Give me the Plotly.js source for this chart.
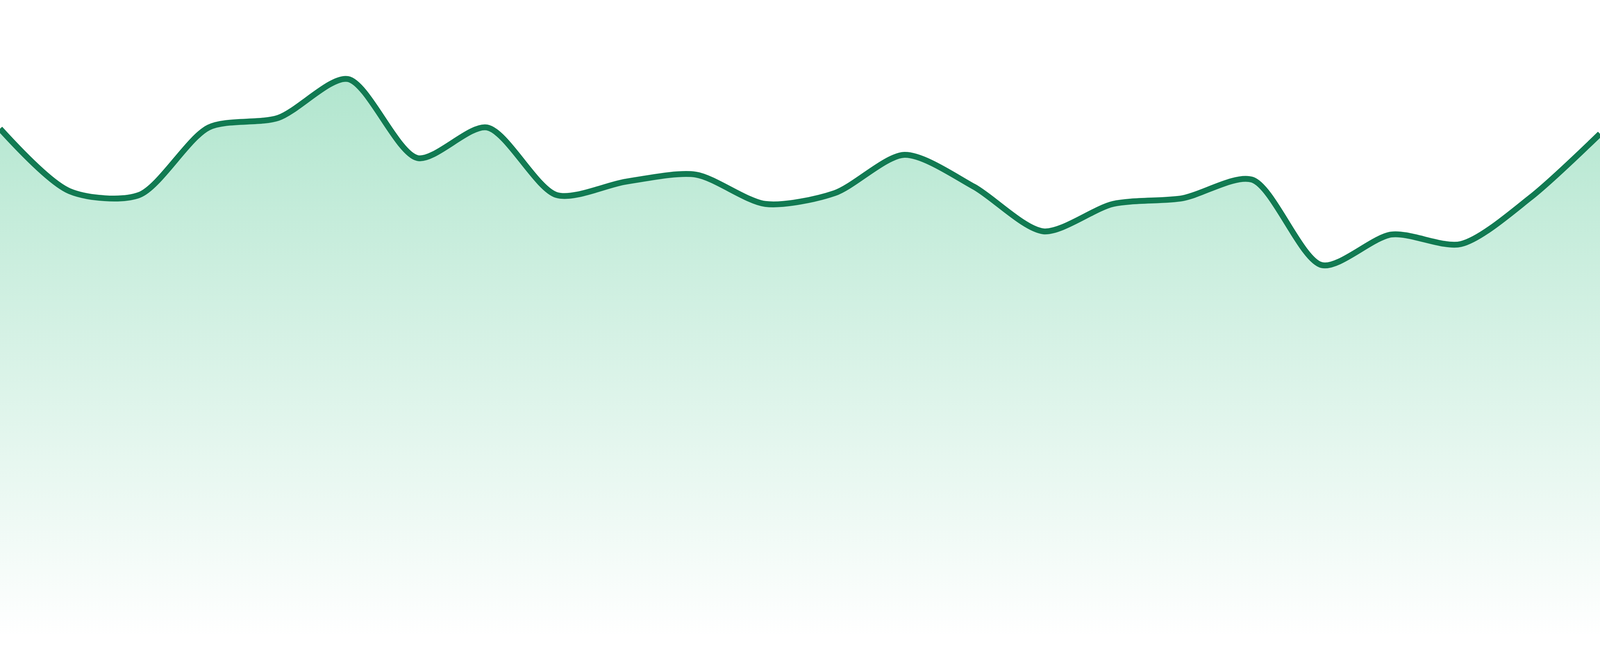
<!DOCTYPE html>
<html>
<head>
<meta charset="utf-8">
<script src="https://cdn.plot.ly/plotly-3.0.1.min.js"></script>
<style>
  html, body { margin: 0; padding: 0; background: #ffffff; overflow: hidden; }
  #chart { width: 100vw; height: 100vh; }
</style>
</head>
<body>
<div id="chart"></div>
<script>
// Data
const categories = [0, 1, 2, 3, 4, 5, 6, 7, 8, 9, 10, 11, 12, 13, 14, 15, 16, 17, 18, 19, 20, 21, 22, 23];
const values = [79.8, 70.0, 69.4, 80.0, 81.5, 87.6, 75.2, 80.0, 69.4, 71.5, 72.6, 68.0,
                69.7, 75.7, 70.7, 63.7, 68.0, 68.9, 71.8, 58.4, 63.2, 61.7, 69.0, 79.0];

const lineColor = '#117a52';
const fillTop = 'rgba(40,185,120,0.36)';
const fillBottom = 'rgba(40,185,120,0.0)';

const W = window.innerWidth || 4800;
const H = window.innerHeight || 1680;

const trace = {
  type: 'scatter',
  mode: 'lines',
  x: categories,
  y: values,
  line: { color: lineColor, width: 15 * H / 1680, shape: 'spline', smoothing: 0.8 },
  fill: 'tozeroy',
  fillcolor: fillTop,
  fillgradient: {
    type: 'vertical',
    start: 0,
    stop: Math.max.apply(null, values),
    colorscale: [[0, fillBottom], [1, fillTop]]
  },
  hoverinfo: 'skip'
};

const layout = {
  width: W,
  height: H,
  margin: { l: 0, r: 0, t: 0, b: Math.round(H * 48 / 1680), pad: 0 },
  paper_bgcolor: '#ffffff',
  plot_bgcolor: '#ffffff',
  showlegend: false,
  xaxis: {
    range: [categories[0], categories[categories.length - 1]],
    visible: false,
    showgrid: false,
    zeroline: false,
    fixedrange: true
  },
  yaxis: {
    range: [0, 100],
    visible: false,
    showgrid: false,
    zeroline: false,
    fixedrange: true
  }
};

Plotly.newPlot('chart', [trace], layout, { staticPlot: true, displayModeBar: false });
</script>
</body>
</html>
